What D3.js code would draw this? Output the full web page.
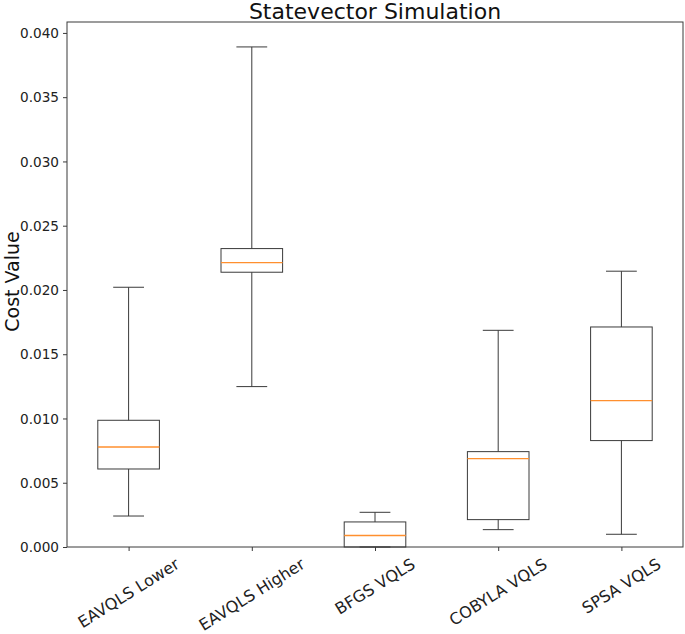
<!DOCTYPE html>
<html>
<head>
<meta charset="utf-8">
<script src="https://cdn.jsdelivr.net/npm/d3@7"></script>
<style>
html,body{margin:0;padding:0;background:#fff;}
svg{display:block;font-family:"DejaVu Sans",sans-serif;}
</style>
</head>
<body>
<svg id="chart" width="685" height="634"></svg>
<script>
const categories = ["EAVQLS Lower","EAVQLS Higher","BFGS VQLS","COBYLA VQLS","SPSA VQLS"];
const whiskerLow  = [0.00241, 0.01248, 0.0,     0.00135, 0.00099];
const q1          = [0.00607, 0.02138, 0.0,     0.00213, 0.00828];
const median      = [0.00778, 0.02213, 0.00089, 0.00688, 0.01139];
const q3          = [0.00986, 0.02322, 0.00195, 0.00742, 0.01712];
const whiskerHigh = [0.02021, 0.03891, 0.00270, 0.01686, 0.02146];
const yTicks = [0,0.005,0.010,0.015,0.020,0.025,0.030,0.035,0.040];
const title = "Statevector Simulation";
const yLabel = "Cost Value";

(function(){
const svg = d3.select("#chart");
const mLeft = 67, mRight = 683, mTop = 22, mBottom = 547;

const x = d3.scaleLinear().domain([0.5, 5.5]).range([mLeft, mRight]);
const y = d3.scaleLinear().domain([0, 0.04085]).range([mBottom, mTop]);

const stroke = "#3a3a3a";
const medColor = "#ff8f2e";

// y axis
const yAxis = d3.axisLeft(y).tickValues(yTicks).tickFormat(d3.format(".3f")).tickSize(4).tickPadding(4);
const gy = svg.append("g").attr("transform", `translate(${mLeft},0)`).call(yAxis);
gy.select(".domain").remove();
gy.selectAll("line").attr("stroke", stroke);
gy.selectAll("text").attr("font-size", 14.5).attr("fill", "#222").attr("font-family", "DejaVu Sans")
  .attr("textLength", 39).attr("lengthAdjust", "spacingAndGlyphs");

// x axis ticks
const gx = svg.append("g").attr("transform", `translate(0,${mBottom})`)
  .call(d3.axisBottom(x).tickValues([1,2,3,4,5]).tickSize(4).tickFormat(""));
gx.select(".domain").remove();
gx.selectAll("line").attr("stroke", stroke);

// x labels rotated, centered under ticks
const fs = 16;
const ang = 32 * Math.PI / 180;
categories.forEach((c, i) => {
  const t = svg.append("text").text(c)
    .attr("font-size", fs).attr("fill", "#222")
    .attr("text-anchor", "middle").attr("dominant-baseline", "central");
  const w = t.node().getComputedTextLength();
  const h = fs * 0.8;
  const H = w * Math.sin(ang) + h * Math.cos(ang);
  const cx = x(i + 1), cy = mBottom + 10 + H / 2;
  t.attr("transform", `translate(${cx},${cy}) rotate(-32)`);
});

// boxes
const g = svg.append("g");
const bw = x(1.25) - x(1), cw = x(1.125) - x(1);
categories.forEach((c, i) => {
  const cx = x(i + 1);
  g.append("line").attr("x1", cx).attr("x2", cx).attr("y1", y(q3[i])).attr("y2", y(whiskerHigh[i])).attr("stroke", stroke);
  g.append("line").attr("x1", cx).attr("x2", cx).attr("y1", y(q1[i])).attr("y2", y(whiskerLow[i])).attr("stroke", stroke);
  g.append("line").attr("x1", cx - cw).attr("x2", cx + cw).attr("y1", y(whiskerHigh[i])).attr("y2", y(whiskerHigh[i])).attr("stroke", stroke);
  g.append("line").attr("x1", cx - cw).attr("x2", cx + cw).attr("y1", y(whiskerLow[i])).attr("y2", y(whiskerLow[i])).attr("stroke", stroke);
  g.append("rect").attr("x", cx - bw).attr("width", 2 * bw)
    .attr("y", y(q3[i])).attr("height", y(q1[i]) - y(q3[i]))
    .attr("fill", "none").attr("stroke", stroke);
  g.append("line").attr("x1", cx - bw).attr("x2", cx + bw).attr("y1", y(median[i])).attr("y2", y(median[i]))
    .attr("stroke", medColor).attr("stroke-width", 1.4);
});

// frame
svg.append("rect").attr("x", mLeft).attr("y", mTop).attr("width", mRight - mLeft).attr("height", mBottom - mTop)
  .attr("fill", "none").attr("stroke", stroke);

// title
svg.append("text").text(title).attr("x", (mLeft + mRight) / 2).attr("y", 19)
  .attr("text-anchor", "middle").attr("font-size", 22).attr("fill", "#111");

// y label
svg.append("text").text(yLabel)
  .attr("transform", `translate(19,${(mTop + mBottom) / 2 - 3}) rotate(-90)`)
  .attr("text-anchor", "middle").attr("font-size", 19).attr("fill", "#111");
})();
</script>
</body>
</html>
